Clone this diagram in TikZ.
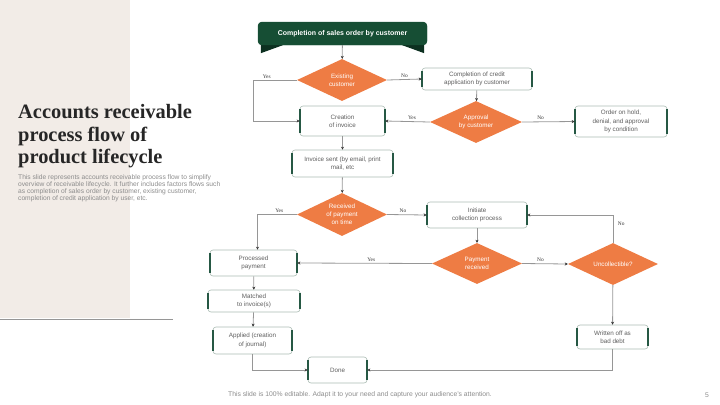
\documentclass[tikz,border=0pt]{standalone}
\usepackage{fontspec}
\setmainfont{Liberation Sans}
\newfontfamily\titlefont{Liberation Serif}
\usepackage{xcolor}
\usetikzlibrary{shapes.geometric, arrows.meta, positioning, calc}
\definecolor{panelbg}{RGB}{242, 236, 231}
\definecolor{darkgreen}{RGB}{22, 78, 52}
\definecolor{foldgreen}{RGB}{12, 48, 32}
\definecolor{sidegreen}{RGB}{38, 88, 68}
\definecolor{boxline}{RGB}{172, 188, 180}
\definecolor{flowline}{RGB}{150, 150, 150}
\definecolor{orangefill}{RGB}{238, 124, 68}
\definecolor{bodytext}{RGB}{95, 95, 95}

\begin{document}
\begin{tikzpicture}[
    x=1bp, y=-1bp,
    stepbox/.style={draw=boxline, line width=0.6bp, fill=white, rounded corners=3bp, align=center,
        text=bodytext, font=\fontsize{6.3}{8.5}\selectfont, inner sep=2bp},
    sidebar/.style={draw=sidegreen, line width=1.8bp},
    decision/.style={diamond, fill=orangefill, aspect=2.1, inner sep=0pt, align=center,
        text=white, font=\fontsize{6.3}{8}\selectfont, minimum width=90bp, minimum height=42bp},
    banner/.style={fill=darkgreen, rounded corners=4bp, text=white, font=\fontsize{7}{8}\selectfont\bfseries,
        minimum width=169bp, minimum height=23bp, inner sep=0pt},
    flow/.style={draw=flowline, line width=0.8bp, -{Stealth[length=3bp, width=3bp, color=black!80]}},
    lbl/.style={font=\titlefont\fontsize{5.4}{6}\selectfont, text=black!80, inner sep=1.5bp}
]
\useasboundingbox (0,0) rectangle (720,404);

% Left panel
\fill[panelbg] (0,0) rectangle (130,318);
\draw[flowline, line width=0.6bp] (0,319.5) -- (173,319.5);
\node[anchor=north west, inner sep=0pt, align=left, font=\titlefont\bfseries\fontsize{20.5}{22.5}\selectfont, text=black!85] (title) at (18,104.5)
    {Accounts receivable\\process flow of\\product lifecycle};
\node[anchor=north west, inner sep=0pt, align=left, font=\fontsize{6.7}{7.2}\selectfont, text=black!45] (desc) at (18,174)
    {This slide represents accounts receivable process flow to simplify\\
     overview of receivable lifecycle. It further includes factors flows such\\
     as completion of sales order by customer, existing customer,\\
     completion of credit application by user, etc.};

% Top: sales order and credit check
\node[banner] (sales) at (342.5,33.5) {Completion of sales order by customer};
\fill[foldgreen] ([xshift=3bp]sales.south west) -- ++(0,8) -- ([xshift=25bp]sales.south west) -- cycle;
\fill[foldgreen] ([xshift=-3bp]sales.south east) -- ++(0,8) -- ([xshift=-25bp]sales.south east) -- cycle;
\fill[darkgreen, rounded corners=4bp] (sales.north west) rectangle (sales.south east);
\node[banner, fill=none] at (sales) {Completion of sales order by customer};

\node[decision] (exist) at (342,80) {Existing\\customer};
\node[stepbox, minimum width=110bp, minimum height=22bp] (credit) at (477,79) {Completion of credit\\application by customer};
\node[decision, minimum width=92bp] (approval) at (476,122) {Approval\\by customer};
\node[stepbox, minimum width=92bp, minimum height=31bp] (hold) at (621,121.5) {Order on hold,\\denial, and approval\\by condition};

% Middle: invoicing
\node[stepbox, minimum width=85bp, minimum height=30bp] (invoice) at (342.5,121) {Creation\\of invoice};
\node[stepbox, minimum width=101bp, minimum height=27bp] (sent) at (342.5,163.5) {Invoice sent (by email, print\\mail, etc};
\node[decision, minimum height=43bp] (receipt) at (342,214.5) {Received\\of payment\\on time};
\node[stepbox, minimum width=100bp, minimum height=26bp] (collect) at (477,215) {Initiate\\collection process};
\node[decision, minimum height=41bp] (paid) at (477,263.5) {Payment\\received};
\node[decision] (uncoll) at (613,264) {Uncollectible?};

% Bottom: payment handling
\node[stepbox, minimum width=87bp, minimum height=26bp] (processed) at (253.5,263) {Processed\\payment};
\node[stepbox, minimum width=92bp, minimum height=22bp] (matched) at (254,301) {Matched\\to invoice(s)};
\node[stepbox, minimum width=79bp, minimum height=27bp] (applied) at (252.5,340.5) {Applied (creation\\of journal)};
\node[stepbox, minimum width=71bp, minimum height=24bp] (writeoff) at (612.5,337) {Written off as\\bad debt};
\node[stepbox, minimum width=59bp, minimum height=26bp] (done) at (337.5,370) {Done};

% Green side bars on the boxes
\foreach \n in {credit, hold, invoice, sent, collect, processed, matched, applied, writeoff, done} {
    \draw[sidebar] ([yshift=-3bp]\n.north west) -- ([yshift=3bp]\n.south west);
    \draw[sidebar] ([yshift=-3bp]\n.north east) -- ([yshift=3bp]\n.south east);
}

% Connecting Arrows
\draw[flow] (sales) -- (exist);
\draw[flow] (exist.west) -- node[lbl, above, pos=0.7]{Yes} ++(-43,0) |- (invoice.west);
\draw[flow] (exist.east) -- node[lbl, above]{No} (credit.west);
\draw[flow] (credit) -- (approval);
\draw[flow] (approval.west) -- node[lbl, above, pos=0.4]{Yes} (invoice.east);
\draw[flow] (approval.east) -- node[lbl, above, pos=0.35]{No} (hold.west);
\draw[flow] (invoice) -- (sent);
\draw[flow] (sent) -- (receipt);
\draw[flow] (receipt.west) -- node[lbl, above, pos=0.45]{Yes} ++(-39,0) -| ([xshift=4bp]processed.north);
\draw[flow] (receipt.east) -- node[lbl, above, pos=0.4]{No} (collect.west);
\draw[flow] (collect) -- (paid);
\draw[flow] (paid.west) -- node[lbl, above, pos=0.45]{Yes} (processed.east);
\draw[flow] (paid.east) -- node[lbl, above, pos=0.4]{No} (uncoll.west);
\draw[flow] (uncoll.north) |- node[lbl, right, pos=0.35, xshift=3bp]{No} (collect.east);
\draw[flow] (uncoll) -- (writeoff);
\draw[flow] (writeoff.south) |- (done.east);
\draw[flow] (processed) -- (matched);
\draw[flow] (matched) -- (applied);
\draw[flow] (applied.south) |- (done.west);

% Footer
\node[font=\fontsize{6.8}{7}\selectfont, text=black!45] (footer) at (360,395) {This slide is 100\% editable. Adapt it to your need and capture your audience's attention.};
\node[font=\fontsize{6.8}{7}\selectfont, text=black!45] (pagenum) at (707,395) {5};

\end{tikzpicture}
\end{document}
